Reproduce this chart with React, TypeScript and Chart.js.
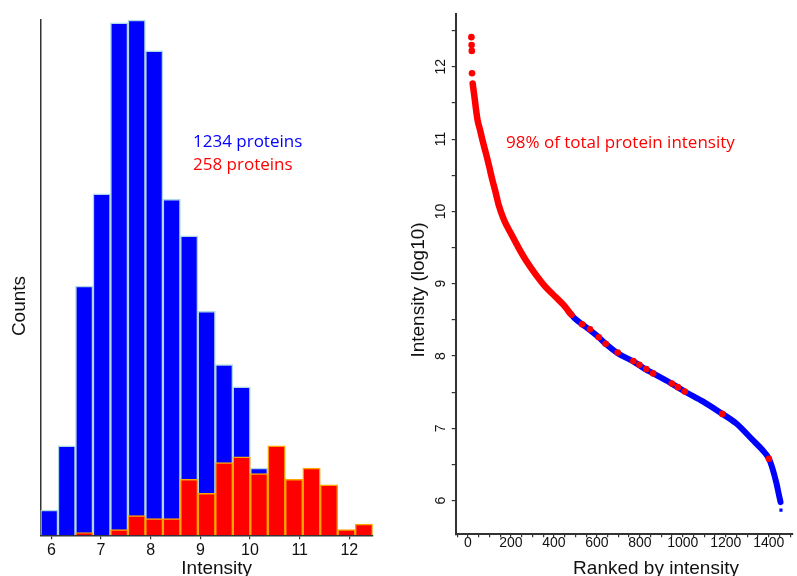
import React, { useEffect, useRef } from "react";
import { Chart, registerables } from "chart.js";

Chart.register(...registerables);

// ---------- Left panel: intensity histogram ----------
const binCenters = [5.958, 6.31, 6.662, 7.014, 7.366, 7.718, 8.07, 8.422, 8.774, 9.126, 9.478, 9.83, 10.182, 10.534, 10.886, 11.238, 11.59, 11.942, 12.294];
const allProteinCounts = [9, 32, 89, 122, 183, 184, 173, 120, 107, 80, 61, 53, 24, 0, 0, 0, 0, 0, 0];
const topProteinCounts = [0, 0, 1, 0, 2, 7, 6, 6, 20, 15, 26, 28, 22, 32, 20, 24, 18, 2, 4];
const histLabelAll = "1234 proteins";
const histLabelTop = "258 proteins";
const histXTitle = "Intensity";
const histYTitle = "Counts";

// ---------- Right panel: ranked intensities ----------
const topRanks = [22, 30, 38, 45, 57, 68, 84, 99, 114, 130, 143, 168, 199, 237, 275, 315, 360, 407, 444, 482];
const topIntensity = [11.77, 11.59, 11.4, 11.26, 11.12, 10.98, 10.8, 10.62, 10.43, 10.25, 10.09, 9.88, 9.7, 9.49, 9.3, 9.13, 8.96, 8.82, 8.71, 8.57];
const restRanks = [470, 497, 531, 559, 605, 641, 697, 773, 825, 862, 942, 1009, 1095, 1179, 1248, 1325, 1371, 1401, 1417, 1436, 1449, 1455];
const restIntensity = [8.61, 8.52, 8.44, 8.38, 8.27, 8.17, 8.04, 7.92, 7.82, 7.76, 7.63, 7.51, 7.37, 7.21, 7.07, 6.84, 6.7, 6.58, 6.45, 6.24, 6.06, 5.98];
const markedRanks = [16, 17, 18, 19, 531, 568, 609, 641, 697, 770, 798, 830, 862, 949, 977, 1009, 1184, 1401];
const markedIntensity = [12.41, 12.3, 12.22, 11.91, 8.44, 8.37, 8.26, 8.17, 8.05, 7.93, 7.88, 7.82, 7.76, 7.62, 7.57, 7.51, 7.2, 6.58];
const lastRanks = [1457];
const lastIntensity = [5.87];
const rankNote = "98% of total protein intensity";
const rankXTitle = "Ranked by intensity";
const rankYTitle = "Intensity (log10)";

const BLUE = "#0000ff";
const RED = "#ff0000";
const AXIS = "#333333";
const ARIAL = "'Liberation Sans', Arial, sans-serif";
const HUMANIST = "'Open Sans', 'Noto Sans', sans-serif";

const freeText = {
  id: "freeText",
  afterDraw(chart: any, _args: any, opts: any) {
    const ctx = chart.ctx;
    const items = (opts && opts.items) || [];
    for (let i = 0; i < items.length; i++) {
      const t = items[i];
      ctx.save();
      ctx.font = t.font;
      ctx.fillStyle = t.color;
      ctx.textAlign = t.align || "left";
      ctx.textBaseline = t.baseline || "alphabetic";
      ctx.translate(t.x, t.y);
      if (t.rotate) ctx.rotate(t.rotate);
      ctx.fillText(t.text, 0, 0);
      ctx.restore();
    }
  },
};

function pts(xs: number[], ys: number[]) {
  return xs.map((x, i) => ({ x, y: ys[i] }));
}

export default function App() {
  const leftRef = useRef<HTMLCanvasElement | null>(null);
  const rightRef = useRef<HTMLCanvasElement | null>(null);

  useEffect(() => {
    const left = new Chart(leftRef.current as HTMLCanvasElement, {
      type: "bar",
      data: {
        datasets: [
          {
            label: histLabelTop,
            data: pts(binCenters, topProteinCounts),
            backgroundColor: RED,
            borderColor: "#ffa500",
            borderWidth: 1.5,
            grouped: false,
            barPercentage: 1,
            categoryPercentage: 1,
          } as any,
          {
            label: histLabelAll,
            data: pts(binCenters, allProteinCounts),
            backgroundColor: BLUE,
            borderColor: "#add8e6",
            borderWidth: 1.5,
            grouped: false,
            barPercentage: 1,
            categoryPercentage: 1,
          } as any,
        ],
      },
      options: {
        responsive: false,
        animation: false,
        layout: { padding: { top: 19.3, right: 27.3, left: 0, bottom: 0 } },
        plugins: {
          legend: { display: false },
          tooltip: { enabled: false },
          freeText: {
            items: [
              { text: histLabelAll, x: 193, y: 146.7, color: BLUE, font: `17px ${HUMANIST}` },
              { text: histLabelTop, x: 193, y: 170, color: RED, font: `17px ${HUMANIST}` },
              { text: histXTitle, x: 216.7, y: 568.5, color: "#111", font: `19px ${ARIAL}`, align: "center", baseline: "middle" },
              { text: histYTitle, x: 19.5, y: 306, color: "#111", font: `19px ${ARIAL}`, align: "center", baseline: "middle", rotate: -Math.PI / 2 },
            ],
          },
        } as any,
        scales: {
          x: {
            type: "linear",
            offset: false,
            min: 5.782,
            max: 12.47,
            afterFit: (s: any) => {
              s.height = 576 - 535.3;
            },
            border: { display: true, color: AXIS, width: 1.5 },
            grid: { display: true, offset: false, drawOnChartArea: false, drawTicks: true, tickLength: 4, color: AXIS, lineWidth: 1.2 },
            ticks: {
              stepSize: 1,
              includeBounds: false,
              autoSkip: false,
              maxRotation: 0,
              minRotation: 0,
              padding: 1.9,
              color: "#111",
              font: { family: ARIAL, size: 16 },
            },
          } as any,
          y: {
            min: 0,
            max: 184.3,
            afterFit: (s: any) => {
              s.width = 40.5;
            },
            border: { display: true, color: AXIS, width: 1.5 },
            grid: { display: false },
            ticks: { display: false },
          } as any,
        },
      },
      plugins: [freeText as any],
    });

    const right = new Chart(rightRef.current as HTMLCanvasElement, {
      type: "scatter",
      data: {
        datasets: [
          {
            label: "marked",
            data: pts(markedRanks, markedIntensity),
            showLine: false,
            pointRadius: 3.3,
            pointBackgroundColor: RED,
            pointBorderWidth: 0,
            pointBorderColor: RED,
          },
          {
            label: "top",
            data: pts(topRanks, topIntensity),
            showLine: true,
            borderColor: RED,
            borderWidth: 6.5,
            borderCapStyle: "round",
            borderJoinStyle: "round",
            cubicInterpolationMode: "monotone",
            pointRadius: 0,
          },
          {
            label: "rest",
            data: pts(restRanks, restIntensity),
            showLine: true,
            borderColor: BLUE,
            borderWidth: 6,
            borderCapStyle: "round",
            borderJoinStyle: "round",
            cubicInterpolationMode: "monotone",
            pointRadius: 0,
          },
          {
            label: "last",
            data: pts(lastRanks, lastIntensity),
            showLine: false,
            pointStyle: "rect",
            pointRadius: 2.2,
            pointBackgroundColor: BLUE,
            pointBorderWidth: 0,
          },
        ] as any,
      },
      options: {
        responsive: false,
        animation: false,
        layout: { padding: { top: 14, right: 0, left: 0, bottom: 0 } },
        plugins: {
          legend: { display: false },
          tooltip: { enabled: false },
          freeText: {
            items: [
              { text: rankNote, x: 106, y: 148.3, color: RED, font: `17px ${HUMANIST}` },
              { text: rankXTitle, x: 256, y: 569, color: "#111", font: `19px ${ARIAL}`, align: "center", baseline: "middle" },
              { text: rankYTitle, x: 19, y: 290, color: "#111", font: `19px ${ARIAL}`, align: "center", baseline: "middle", rotate: -Math.PI / 2 },
            ],
          },
        } as any,
        scales: {
          x: {
            type: "linear",
            min: -57,
            max: 1513,
            afterFit: (s: any) => {
              s.height = 576 - 534.3;
            },
            border: { display: true, color: AXIS, width: 2 },
            grid: { display: true, drawOnChartArea: false, drawTicks: true, tickLength: 3, color: AXIS, lineWidth: 1.2 },
            ticks: {
              stepSize: 50,
              includeBounds: false,
              autoSkip: false,
              maxRotation: 0,
              minRotation: 0,
              padding: -3,
              color: "#111",
              font: { family: ARIAL, size: 14 },
              callback: (v: any) => (Math.abs(Number(v) % 200) < 1e-6 ? String(v) : ""),
            },
          } as any,
          y: {
            type: "linear",
            min: 5.535,
            max: 12.73,
            afterFit: (s: any) => {
              s.width = 55.7;
            },
            border: { display: true, color: AXIS, width: 2 },
            grid: { display: true, drawOnChartArea: false, drawTicks: true, tickLength: 4, color: AXIS, lineWidth: 1.2 },
            ticks: {
              stepSize: 0.5,
              includeBounds: false,
              autoSkip: false,
              minRotation: 90,
              maxRotation: 90,
              crossAlign: "center",
              padding: 2.4,
              color: "#111",
              font: { family: ARIAL, size: 14 },
              callback: (v: any) => {
                const n = Number(v);
                return Math.abs(n - Math.round(n)) < 1e-6 ? String(Math.round(n)) : "";
              },
            },
          } as any,
        },
      },
      plugins: [freeText as any],
    });

    let alive = true;
    if ((document as any).fonts && (document as any).fonts.ready) {
      (document as any).fonts.ready.then(() => {
        if (alive) {
          left.update();
          right.update();
        }
      });
    }

    return () => {
      alive = false;
      left.destroy();
      right.destroy();
    };
  }, []);

  return (
    <div style={{ position: "fixed", left: 0, top: 0, width: 797, height: 576, overflow: "hidden", background: "#fff" }}>
      <canvas ref={leftRef} width={400} height={576} style={{ position: "absolute", left: 0, top: 0, width: 400, height: 576 }} />
      <canvas ref={rightRef} width={397} height={576} style={{ position: "absolute", left: 400, top: 0, width: 397, height: 576 }} />
    </div>
  );
}
